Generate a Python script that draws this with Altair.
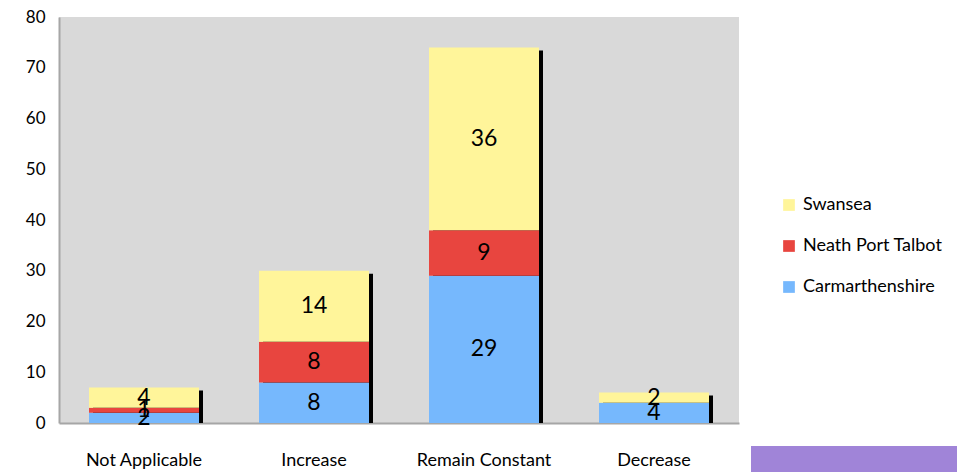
import altair as alt
import pandas as pd

categories = ["Not Applicable", "Increase", "Remain Constant", "Decrease"]
carmarthenshire = [2, 8, 29, 4]
neath_port_talbot = [1, 8, 9, 0]
swansea = [4, 14, 36, 2]

series_names = ["Swansea", "Neath Port Talbot", "Carmarthenshire"]
series_colors = ["#fff59a", "#e8453f", "#76b8fd"]
stack_order = {"Carmarthenshire": 0, "Neath Port Talbot": 1, "Swansea": 2}

rows = []
for i, c in enumerate(categories):
    for name, vals in [("Carmarthenshire", carmarthenshire),
                       ("Neath Port Talbot", neath_port_talbot),
                       ("Swansea", swansea)]:
        rows.append({"cat": c, "series": name, "value": vals[i], "ord": stack_order[name]})
df = pd.DataFrame(rows)

FONT = "Lato"
x_enc = alt.X("cat:N", sort=categories, title=None,
              scale=alt.Scale(paddingInner=0, paddingOuter=0),
              axis=alt.Axis(labelAngle=0, labelFontSize=18, labelFont=FONT, labelColor="black",
                            labelPadding=28, ticks=False, domainColor="#a6a6a6", domainWidth=2))
y_scale = alt.Scale(domain=[0, 80])

base = alt.Chart(df)

shadow = base.mark_bar(color="black", size=110, xOffset=4, yOffset=3, clip=True).encode(
    x=x_enc,
    y=alt.Y("sum(value):Q", scale=y_scale, title=None,
            axis=alt.Axis(values=list(range(0, 81, 10)), labelFontSize=17, labelFont=FONT,
                          labelColor="black", labelPadding=14, ticks=False, grid=False,
                          domainColor="#a6a6a6", domainWidth=2)),
)

bars = base.mark_bar(size=110).encode(
    x=alt.X("cat:N", sort=categories),
    y=alt.Y("value:Q", stack="zero", scale=y_scale),
    color=alt.Color("series:N",
                    scale=alt.Scale(domain=series_names, range=series_colors),
                    legend=alt.Legend(title=None, orient="none", legendX=721, legendY=179,
                                      symbolType="square", symbolSize=137, symbolStrokeWidth=0,
                                      labelFontSize=18, labelFont=FONT, labelColor="black",
                                      rowPadding=23, labelOffset=5)),
    order=alt.Order("ord:Q", sort="ascending"),
)

labels = base.transform_stack(
    stack="value", groupby=["cat"], as_=["v0", "v1"], sort=[alt.SortField("ord", order="ascending")]
).transform_calculate(
    mid="(datum.v0 + datum.v1) / 2"
).transform_filter("datum.value > 0").mark_text(
    fontSize=23, font=FONT, color="black", baseline="middle"
).encode(
    x=alt.X("cat:N", sort=categories),
    y=alt.Y("mid:Q", scale=y_scale),
    text="value:Q",
)

# decorative purple box at the bottom-right corner (slide artefact)
badge = alt.Chart(pd.DataFrame({"k": [0]})).mark_rect(color="#a084d8", clip=False).encode(
    x=alt.value(692), x2=alt.value(898), y=alt.value(429), y2=alt.value(470)
)

chart = alt.layer(shadow, bars, labels, badge).properties(
    width=680, height=406,
    padding={"left": 51, "top": 9, "right": 218, "bottom": 49},
    autosize=alt.AutoSizeParams(type="none"),
    background="white",
).configure_view(
    fill="#d9d9d9", stroke=None
)

chart.save("out.html", embed_options={"renderer": "svg", "actions": False})
